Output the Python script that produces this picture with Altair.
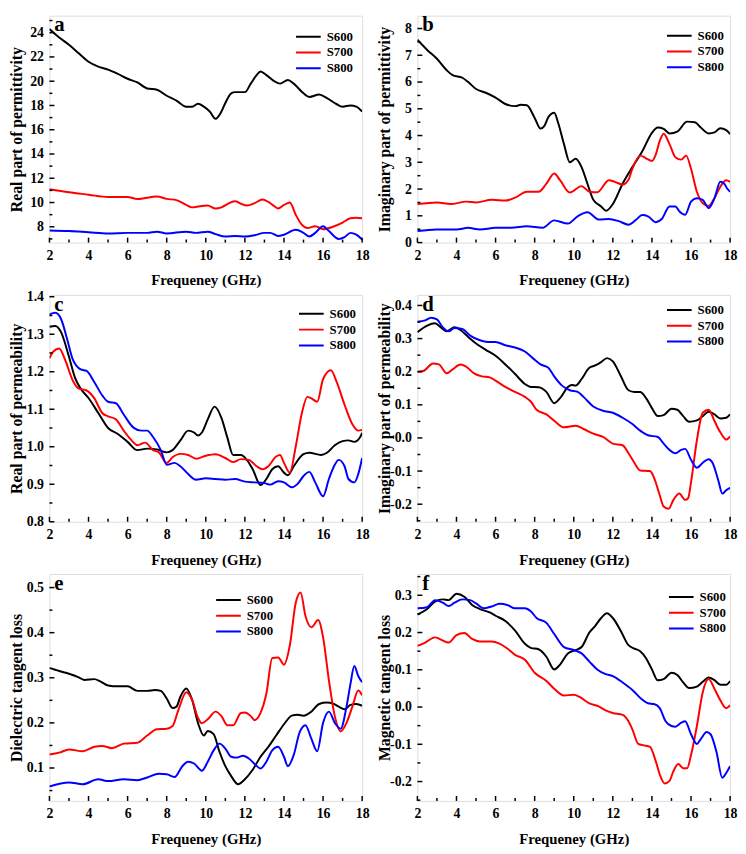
import altair as alt
import pandas as pd

SERIES = ["S600", "S700", "S800"]
COLORS = ["#000000", "#FF0000", "#0000FF"]
X_TICKS = [2, 4, 6, 8, 10, 12, 14, 16, 18]
X_MINOR = [3, 5, 7, 9, 11, 13, 15, 17]
X_TITLE = "Frequeney (GHz)"

# ---- panel a: real part of permittivity ----
A_S600 = [(2, 24.3), (2.5, 23.6), (3, 23.0), (3.5, 22.3), (4, 21.6), (4.5, 21.2), (5, 20.95), (5.5, 20.6),
          (6, 20.2), (6.5, 19.9), (7, 19.4), (7.5, 19.3), (8, 18.8), (8.5, 18.4), (9, 17.9), (9.3, 17.9),
          (9.6, 18.15), (9.9, 17.9), (10.2, 17.5), (10.5, 16.9), (10.8, 17.5), (11, 18.2), (11.3, 19.0),
          (11.5, 19.1), (12, 19.1), (12.3, 19.8), (12.6, 20.5), (12.8, 20.8), (13.1, 20.5), (13.5, 20.0),
          (13.8, 19.8), (14.2, 20.1), (14.5, 19.8), (15, 19.0), (15.3, 18.7), (15.8, 18.9), (16.2, 18.6),
          (16.7, 18.1), (17, 17.9), (17.4, 18.0), (17.7, 17.9), (18, 17.5)]
A_S700 = [(2, 11.1), (3, 10.85), (4, 10.65), (5, 10.45), (6, 10.45), (6.5, 10.3), (7.5, 10.5), (8, 10.3),
          (8.5, 10.2), (9, 9.8), (9.3, 9.6), (9.7, 9.7), (10.1, 9.75), (10.5, 9.5), (10.8, 9.6), (11.2, 9.95),
          (11.5, 10.1), (11.8, 9.9), (12.1, 9.75), (12.5, 9.95), (12.9, 10.25), (13.2, 10.05), (13.5, 9.7),
          (13.7, 9.5), (14, 9.8), (14.3, 10.0), (14.6, 9.0), (14.9, 8.2), (15.2, 7.9), (15.6, 8.05), (16, 7.8),
          (16.5, 8.0), (17, 8.35), (17.4, 8.7), (17.7, 8.75), (18, 8.7)]
A_S800 = [(2, 7.7), (3, 7.65), (4, 7.55), (5, 7.45), (6, 7.5), (7, 7.5), (7.5, 7.6), (8, 7.45), (9, 7.6),
          (9.5, 7.5), (10.1, 7.6), (10.5, 7.4), (11, 7.2), (11.5, 7.25), (12, 7.2), (12.5, 7.3), (13, 7.5),
          (13.3, 7.5), (13.7, 7.25), (14, 7.35), (14.6, 7.75), (15, 7.5), (15.3, 7.2), (15.6, 7.5), (16, 8.05),
          (16.3, 7.65), (16.8, 7.0), (17.1, 7.15), (17.4, 7.5), (17.7, 7.35), (18, 6.95)]

# ---- panel b: imaginary part of permittivity ----
B_S600 = [(2, 7.58), (2.5, 7.2), (3, 6.87), (3.5, 6.44), (3.8, 6.26), (4.3, 6.16), (4.6, 6.0), (5, 5.74),
          (5.5, 5.6), (6, 5.42), (6.5, 5.18), (7, 5.1), (7.3, 5.15), (7.6, 5.13), (8, 4.66), (8.3, 4.26),
          (8.5, 4.36), (8.7, 4.69), (9, 4.85), (9.2, 4.48), (9.5, 3.68), (9.8, 3.0), (10.1, 3.13), (10.4, 2.82),
          (10.7, 2.2), (11, 1.6), (11.4, 1.35), (11.65, 1.19), (12, 1.44), (12.5, 2.2), (13, 2.82), (13.5, 3.4),
          (14, 4.1), (14.3, 4.3), (14.6, 4.25), (14.9, 4.08), (15.3, 4.15), (15.8, 4.52), (16.2, 4.5),
          (16.5, 4.3), (16.9, 4.08), (17.2, 4.12), (17.5, 4.27), (17.8, 4.2), (18, 4.05)]
B_S700 = [(2, 1.44), (3, 1.5), (3.7, 1.44), (4.5, 1.53), (5, 1.5), (5.8, 1.6), (6.5, 1.57), (7, 1.68),
          (7.6, 1.9), (8.2, 1.9), (8.6, 2.2), (9, 2.58), (9.3, 2.33), (9.8, 1.87), (10.4, 2.11), (10.8, 1.9),
          (11.2, 1.88), (11.8, 2.33), (12.1, 2.27), (12.5, 2.17), (12.8, 2.35), (13.0, 2.76), (13.4, 3.25),
          (13.7, 3.15), (14.0, 3.05), (14.2, 3.3), (14.4, 3.8), (14.6, 4.07), (14.9, 3.68), (15.2, 3.19),
          (15.5, 3.1), (15.75, 3.25), (16, 2.76), (16.3, 1.9), (16.6, 1.47), (16.9, 1.37), (17.2, 1.66),
          (17.5, 2.09), (17.8, 2.33), (18, 2.27)]
B_S800 = [(2, 0.43), (3, 0.49), (4, 0.49), (4.6, 0.55), (5.2, 0.49), (6, 0.55), (6.8, 0.55), (7.6, 0.61),
          (8.4, 0.55), (9, 0.83), (9.7, 0.71), (10.2, 0.98), (10.7, 1.13), (11.3, 0.86), (11.8, 0.88),
          (12.3, 0.8), (12.8, 0.67), (13.2, 0.86), (13.5, 1.03), (13.8, 0.98), (14.2, 0.76), (14.5, 0.88),
          (14.9, 1.35), (15.2, 1.35), (15.4, 1.17), (15.7, 1.04), (16.0, 1.53), (16.3, 1.66), (16.6, 1.6),
          (16.9, 1.29), (17.2, 1.66), (17.5, 2.27), (17.7, 2.2), (17.85, 2.02), (18, 1.9)]

# ---- panel c: real part of permeability ----
C_S600 = [(2, 1.32), (2.3, 1.322), (2.6, 1.305), (3, 1.24), (3.3, 1.185), (3.6, 1.155), (4, 1.13), (4.5, 1.09),
          (5, 1.05), (5.5, 1.034), (6, 1.013), (6.5, 0.991), (7, 0.995), (7.5, 0.993), (8, 0.985), (8.3, 0.991),
          (8.7, 1.017), (9.1, 1.043), (9.4, 1.038), (9.6, 1.03), (9.8, 1.038), (10.1, 1.073), (10.45, 1.107),
          (10.8, 1.077), (11.1, 1.025), (11.4, 0.978), (11.8, 0.978), (12.1, 0.965), (12.4, 0.94), (12.8, 0.898),
          (13.1, 0.914), (13.4, 0.94), (13.7, 0.948), (14.0, 0.931), (14.2, 0.924), (14.5, 0.948), (15, 0.98),
          (15.3, 0.984), (15.9, 0.978), (16.2, 0.984), (16.6, 1.004), (17.0, 1.015), (17.3, 1.017),
          (17.6, 1.013), (17.9, 1.026), (18, 1.037)]
C_S700 = [(2, 1.236), (2.2, 1.254), (2.5, 1.262), (2.8, 1.232), (3.2, 1.176), (3.5, 1.155), (3.9, 1.15),
          (4.3, 1.129), (4.7, 1.09), (5.0, 1.081), (5.4, 1.073), (5.8, 1.043), (6.2, 1.017), (6.5, 1.004),
          (6.9, 1.011), (7.3, 0.991), (7.6, 0.985), (8.0, 0.957), (8.3, 0.972), (8.7, 0.981), (9.1, 0.978),
          (9.5, 0.968), (10.0, 0.976), (10.5, 0.98), (11.0, 0.97), (11.4, 0.959), (11.8, 0.967), (12.2, 0.965),
          (12.6, 0.948), (12.9, 0.94), (13.2, 0.948), (13.6, 0.974), (13.8, 0.978), (14.0, 0.957), (14.3, 0.931),
          (14.6, 1.0), (14.9, 1.086), (15.2, 1.133), (15.4, 1.129), (15.7, 1.12), (16, 1.18), (16.4, 1.204),
          (16.7, 1.172), (17.1, 1.112), (17.5, 1.06), (17.8, 1.043), (18, 1.045)]
C_S800 = [(2, 1.353), (2.3, 1.357), (2.6, 1.34), (2.9, 1.288), (3.2, 1.232), (3.6, 1.206), (3.9, 1.202),
          (4.3, 1.172), (4.7, 1.137), (5.0, 1.12), (5.4, 1.116), (5.8, 1.086), (6.3, 1.051), (6.7, 1.043),
          (7.0, 1.043), (7.3, 1.026), (7.7, 0.991), (8.0, 0.952), (8.4, 0.957), (8.7, 0.948), (9.1, 0.927),
          (9.5, 0.912), (10.0, 0.916), (10.5, 0.914), (11.0, 0.912), (11.5, 0.914), (12, 0.907), (12.5, 0.905),
          (13, 0.903), (13.3, 0.899), (13.7, 0.908), (14.0, 0.905), (14.4, 0.892), (14.7, 0.901), (15.0, 0.922),
          (15.3, 0.933), (15.6, 0.905), (16.0, 0.868), (16.3, 0.914), (16.6, 0.952), (16.8, 0.965),
          (17.1, 0.948), (17.3, 0.914), (17.6, 0.905), (17.8, 0.927), (18, 0.97)]

# ---- panel d: imaginary part of permeability ----
D_S600 = [(2, 0.319), (2.5, 0.339), (2.9, 0.346), (3.2, 0.334), (3.5, 0.322), (3.9, 0.334), (4.2, 0.326),
          (4.6, 0.305), (5.0, 0.285), (5.5, 0.266), (6.0, 0.248), (6.5, 0.222), (7.0, 0.193), (7.5, 0.163),
          (7.8, 0.154), (8.2, 0.153), (8.6, 0.139), (9.0, 0.105), (9.3, 0.12), (9.7, 0.154), (9.9, 0.16),
          (10.1, 0.158), (10.4, 0.178), (10.8, 0.212), (11.1, 0.219), (11.4, 0.229), (11.7, 0.241),
          (12.0, 0.231), (12.4, 0.188), (12.8, 0.144), (13.1, 0.139), (13.4, 0.139), (13.7, 0.12), (14.0, 0.09),
          (14.3, 0.066), (14.6, 0.069), (15.0, 0.088), (15.3, 0.085), (15.6, 0.066), (15.9, 0.049),
          (16.3, 0.053), (16.6, 0.066), (16.9, 0.079), (17.2, 0.071), (17.5, 0.059), (17.8, 0.061), (18, 0.071)]
D_S700 = [(2, 0.2), (2.3, 0.202), (2.8, 0.225), (3.1, 0.222), (3.5, 0.195), (3.8, 0.207), (4.2, 0.222),
          (4.5, 0.215), (4.9, 0.195), (5.3, 0.186), (5.7, 0.183), (6.0, 0.173), (6.5, 0.154), (7.0, 0.139),
          (7.5, 0.124), (7.8, 0.11), (8.1, 0.085), (8.6, 0.071), (9.0, 0.052), (9.5, 0.032), (10.1, 0.037),
          (10.5, 0.027), (11.0, 0.013), (11.5, 0.003), (12.0, -0.017), (12.5, -0.022), (12.8, -0.046),
          (13.1, -0.075), (13.4, -0.098), (13.9, -0.1), (14.1, -0.119), (14.4, -0.173), (14.6, -0.207),
          (14.85, -0.214), (15.1, -0.187), (15.4, -0.168), (15.7, -0.187), (15.85, -0.182), (16.0, -0.134),
          (16.3, -0.007), (16.6, 0.076), (16.9, 0.085), (17.2, 0.051), (17.5, 0.017), (17.8, -0.005), (18, 0.005)]
D_S800 = [(2, 0.351), (2.4, 0.355), (2.7, 0.363), (3.0, 0.358), (3.3, 0.334), (3.6, 0.322), (3.9, 0.332),
          (4.3, 0.329), (4.7, 0.309), (5.2, 0.295), (5.6, 0.29), (6.0, 0.29), (6.5, 0.28), (7.0, 0.273),
          (7.5, 0.261), (7.9, 0.241), (8.3, 0.222), (8.7, 0.212), (9.0, 0.186), (9.4, 0.158), (9.8, 0.144),
          (10.2, 0.139), (10.5, 0.124), (11.0, 0.095), (11.5, 0.082), (12.0, 0.076), (12.5, 0.061), (13.0, 0.042),
          (13.4, 0.022), (13.8, 0.008), (14.3, 0.003), (14.6, -0.017), (14.9, -0.036), (15.2, -0.046),
          (15.5, -0.036), (15.7, -0.033), (16.0, -0.066), (16.3, -0.09), (16.6, -0.075), (16.9, -0.064),
          (17.1, -0.075), (17.4, -0.129), (17.6, -0.168), (17.8, -0.158), (18, -0.151)]

# ---- panel e: dielectric tangent loss ----
E_S600 = [(2, 0.322), (2.5, 0.315), (3.0, 0.309), (3.5, 0.301), (3.8, 0.295), (4.3, 0.297), (4.6, 0.292),
          (5.0, 0.283), (5.5, 0.281), (6.0, 0.281), (6.5, 0.271), (7.0, 0.271), (7.4, 0.273), (7.7, 0.271),
          (8.0, 0.254), (8.3, 0.233), (8.5, 0.236), (8.7, 0.258), (9.0, 0.276), (9.3, 0.251), (9.6, 0.2),
          (9.9, 0.172), (10.1, 0.182), (10.4, 0.175), (10.7, 0.136), (11.0, 0.104), (11.3, 0.082),
          (11.65, 0.064), (12.0, 0.075), (12.4, 0.096), (12.8, 0.125), (13.2, 0.147), (13.6, 0.172),
          (14.0, 0.197), (14.4, 0.216), (14.7, 0.218), (15.0, 0.216), (15.4, 0.225), (15.8, 0.242),
          (16.2, 0.245), (16.5, 0.243), (16.8, 0.236), (17.1, 0.23), (17.4, 0.24), (17.7, 0.242), (18, 0.238)]
E_S700 = [(2, 0.13), (2.5, 0.134), (3.0, 0.141), (3.7, 0.137), (4.3, 0.147), (4.7, 0.149), (5.2, 0.144),
          (5.8, 0.154), (6.5, 0.156), (7.0, 0.172), (7.5, 0.186), (8.0, 0.187), (8.3, 0.193), (8.6, 0.229),
          (9.0, 0.268), (9.3, 0.251), (9.6, 0.211), (9.8, 0.199), (10.1, 0.208), (10.5, 0.225), (10.8, 0.215),
          (11.1, 0.195), (11.4, 0.195), (11.8, 0.222), (12.0, 0.223), (12.3, 0.215), (12.5, 0.206),
          (12.8, 0.222), (13.1, 0.265), (13.4, 0.344), (13.7, 0.345), (14.0, 0.329), (14.3, 0.372),
          (14.6, 0.466), (14.85, 0.489), (15.1, 0.437), (15.4, 0.412), (15.75, 0.428), (16.0, 0.39),
          (16.3, 0.294), (16.6, 0.215), (16.9, 0.181), (17.2, 0.2), (17.5, 0.236), (17.8, 0.272), (18, 0.261)]
E_S800 = [(2, 0.059), (3.0, 0.068), (3.7, 0.064), (4.5, 0.075), (5.0, 0.071), (5.8, 0.075), (6.5, 0.073),
          (7.0, 0.079), (7.6, 0.087), (8.0, 0.086), (8.4, 0.08), (8.8, 0.104), (9.1, 0.114), (9.4, 0.11),
          (9.8, 0.094), (10.1, 0.114), (10.4, 0.139), (10.7, 0.154), (11.0, 0.143), (11.3, 0.125),
          (11.6, 0.123), (11.9, 0.127), (12.2, 0.121), (12.5, 0.109), (12.8, 0.099), (13.1, 0.114),
          (13.4, 0.139), (13.7, 0.147), (14.0, 0.125), (14.2, 0.104), (14.5, 0.129), (14.8, 0.179),
          (15.1, 0.195), (15.4, 0.165), (15.7, 0.137), (16.0, 0.2), (16.3, 0.225), (16.6, 0.2), (16.9, 0.187),
          (17.2, 0.236), (17.4, 0.286), (17.6, 0.326), (17.8, 0.304), (18, 0.29)]

# ---- panel f: magnetic tangent loss ----
F_S600 = [(2, 0.248), (2.5, 0.263), (2.9, 0.283), (3.3, 0.289), (3.6, 0.287), (4.0, 0.304), (4.4, 0.296),
          (4.8, 0.274), (5.2, 0.263), (5.7, 0.254), (6.0, 0.245), (6.5, 0.231), (7.0, 0.205), (7.5, 0.17),
          (7.8, 0.159), (8.2, 0.155), (8.6, 0.135), (9.0, 0.101), (9.3, 0.114), (9.7, 0.144), (10.1, 0.153),
          (10.4, 0.161), (10.8, 0.2), (11.1, 0.218), (11.4, 0.239), (11.7, 0.252), (12.0, 0.239), (12.4, 0.205),
          (12.8, 0.166), (13.1, 0.157), (13.4, 0.15), (13.7, 0.131), (14.0, 0.101), (14.3, 0.072), (14.6, 0.075),
          (15.0, 0.092), (15.3, 0.086), (15.6, 0.066), (15.9, 0.051), (16.3, 0.055), (16.6, 0.068),
          (16.9, 0.079), (17.2, 0.072), (17.5, 0.06), (17.8, 0.06), (18, 0.07)]
F_S700 = [(2, 0.164), (2.4, 0.173), (2.9, 0.187), (3.2, 0.181), (3.6, 0.173), (4.0, 0.193), (4.4, 0.199),
          (4.8, 0.183), (5.2, 0.176), (5.8, 0.176), (6.2, 0.17), (6.6, 0.157), (7.0, 0.14), (7.5, 0.127),
          (8.0, 0.092), (8.6, 0.07), (9.0, 0.049), (9.5, 0.031), (10.0, 0.033), (10.3, 0.027), (10.8, 0.01),
          (11.3, 0.001), (11.6, -0.008), (12.0, -0.016), (12.5, -0.021), (12.8, -0.038), (13.0, -0.06),
          (13.3, -0.099), (13.6, -0.103), (13.9, -0.107), (14.2, -0.146), (14.4, -0.181), (14.65, -0.205),
          (14.9, -0.198), (15.1, -0.172), (15.35, -0.153), (15.6, -0.164), (15.8, -0.164), (16.0, -0.129),
          (16.3, -0.051), (16.6, 0.04), (16.9, 0.075), (17.2, 0.049), (17.5, 0.018), (17.8, -0.003), (18, 0.005)]
F_S800 = [(2, 0.265), (2.5, 0.268), (2.9, 0.287), (3.3, 0.28), (3.6, 0.271), (3.9, 0.28), (4.3, 0.289),
          (4.7, 0.287), (5.0, 0.278), (5.4, 0.265), (5.8, 0.27), (6.2, 0.277), (6.6, 0.274), (7.0, 0.265),
          (7.5, 0.265), (7.8, 0.257), (8.1, 0.239), (8.6, 0.226), (9.0, 0.196), (9.5, 0.161), (10.0, 0.153),
          (10.4, 0.144), (10.8, 0.122), (11.2, 0.101), (11.6, 0.089), (12.0, 0.083), (12.5, 0.066), (13.0, 0.046),
          (13.5, 0.02), (13.8, 0.01), (14.1, 0.008), (14.4, -0.003), (14.7, -0.038), (15.0, -0.051),
          (15.2, -0.053), (15.5, -0.042), (15.7, -0.038), (16.0, -0.073), (16.3, -0.099), (16.5, -0.086),
          (16.8, -0.067), (17.0, -0.073), (17.3, -0.12), (17.6, -0.19), (17.8, -0.177), (18, -0.159)]

A_YTICKS = [8, 10, 12, 14, 16, 18, 20, 22, 24]
A_YMINOR = [7, 9, 11, 13, 15, 17, 19, 21, 23, 25]
B_YTICKS = [0, 1, 2, 3, 4, 5, 6, 7, 8]
B_YMINOR = [0.5, 1.5, 2.5, 3.5, 4.5, 5.5, 6.5, 7.5]
C_YTICKS = [0.8, 0.9, 1.0, 1.1, 1.2, 1.3, 1.4]
C_YMINOR = [0.85, 0.95, 1.05, 1.15, 1.25, 1.35]
D_YTICKS = [-0.2, -0.1, 0.0, 0.1, 0.2, 0.3, 0.4]
D_YMINOR = [-0.25, -0.15, -0.05, 0.05, 0.15, 0.25, 0.35]
E_YTICKS = [0.1, 0.2, 0.3, 0.4, 0.5]
E_YMINOR = [0.05, 0.15, 0.25, 0.35, 0.45]
F_YTICKS = [-0.2, -0.1, 0.0, 0.1, 0.2, 0.3]
F_YMINOR = [-0.25, -0.15, -0.05, 0.05, 0.15, 0.25, 0.35]

FONT = "Liberation Serif"
W, H = 317, 230


def panel(letter, series_pts, ydomain, ymajor, yminor, ytitle, intfmt, lx, ly):
    rows = []
    for name, pts in zip(SERIES, series_pts):
        for f, v in pts:
            rows.append({"series": name, "freq": f, "val": v})
    df = pd.DataFrame(rows)
    if intfmt:
        expr = "format(datum.value, 'd')"
    else:
        expr = "datum.value < 0 ? '-' + format(-datum.value, '.1f') : format(datum.value, '.1f')"
    xs = alt.Scale(domain=[2, 18], nice=False, zero=False)
    ys = alt.Scale(domain=ydomain, nice=False, zero=False)
    xax = alt.Axis(values=X_TICKS, format="d", title=X_TITLE, ticks=False, domain=False, grid=False,
                   labelFont=FONT, labelFontWeight="bold", labelFontSize=14, labelColor="black",
                   labelPadding=6, labelFlush=False,
                   titleFont=FONT, titleFontWeight="bold", titleFontSize=15, titleColor="black",
                   titlePadding=11)
    yax = alt.Axis(values=ymajor, labelExpr=expr, title=ytitle, ticks=False, domain=False, grid=False,
                   labelFont=FONT, labelFontWeight="bold", labelFontSize=14, labelColor="black",
                   labelPadding=6, labelFlush=False,
                   titleFont=FONT, titleFontWeight="bold", titleFontSize=16, titleColor="black",
                   titleX=-25, titleY=H / 2)
    X = alt.X("freq:Q", scale=xs, axis=xax)
    Y = alt.Y("val:Q", scale=ys, axis=yax)

    lines = alt.Chart(df).mark_line(strokeWidth=2, interpolate="monotone", clip=True).encode(
        x=X, y=Y,
        color=alt.Color("series:N", scale=alt.Scale(domain=SERIES, range=COLORS),
                        legend=alt.Legend(title=None, orient="none", legendX=lx, legendY=ly,
                                          symbolType="stroke", symbolStrokeWidth=2, symbolSize=625,
                                          labelFont=FONT, labelFontWeight="bold", labelFontSize=13,
                                          labelColor="black", labelOffset=5, padding=0,
                                          rowPadding=0, clipHeight=15.5)),
    )
    xmaj = alt.Chart(pd.DataFrame({"freq": X_TICKS})).mark_rule(color="black", strokeWidth=1.5).encode(
        x=X, y=alt.value(H), y2=alt.value(H - 5))
    xmin = alt.Chart(pd.DataFrame({"freq": X_MINOR})).mark_rule(color="black", strokeWidth=1.5).encode(
        x=X, y=alt.value(H), y2=alt.value(H - 3))
    ymaj = alt.Chart(pd.DataFrame({"val": ymajor})).mark_rule(color="black", strokeWidth=1.5).encode(
        y=Y, x=alt.value(0), x2=alt.value(5))
    ymin = alt.Chart(pd.DataFrame({"val": yminor})).mark_rule(color="black", strokeWidth=1.5).encode(
        y=Y, x=alt.value(0), x2=alt.value(3))
    label = alt.Chart(pd.DataFrame({"t": [letter]})).mark_text(
        font=FONT, fontWeight="bold", fontSize=21, align="left", baseline="alphabetic", color="black"
    ).encode(x=alt.value(5), y=alt.value(16), text="t:N")
    return alt.layer(lines, xmaj, xmin, ymaj, ymin, label).properties(width=W, height=H)


pa = panel("a", [A_S600, A_S700, A_S800], [6.7, 25.4], A_YTICKS, A_YMINOR,
           "Real part of permittivity", True, 249, 13.5)
pb = panel("b", [B_S600, B_S700, B_S800], [0, 8.48], B_YTICKS, B_YMINOR,
           "Imaginary part of  permittivity", True, 252, 12.5)
pc = panel("c", [C_S600, C_S700, C_S800], [0.8, 1.405], C_YTICKS, C_YMINOR,
           "Real part of permeability", False, 252, 11.5)
pd_ = panel("d", [D_S600, D_S700, D_S800], [-0.253, 0.432], D_YTICKS, D_YMINOR,
            "Imaginary part of permeability", False, 252, 7.5)
pe = panel("e", [E_S600, E_S700, E_S800], [0.027, 0.53], E_YTICKS, E_YMINOR,
           "Dielectric tangent loss", False, 168, 18.5)
pf = panel("f", [F_S600, F_S700, F_S800], [-0.252, 0.357], F_YTICKS, F_YMINOR,
           "Magnetic tangent loss", False, 254, 15.5)

chart = alt.concat(pa, pb, pc, pd_, pe, pf, columns=2, spacing={"row": 53, "column": 56},
                   bounds="flush", padding=0).resolve_scale(color="independent").configure_view(
    stroke="black", strokeWidth=1.8).configure(background="white")

chart.save("out.html", embed_options={"renderer": "svg", "actions": False})
